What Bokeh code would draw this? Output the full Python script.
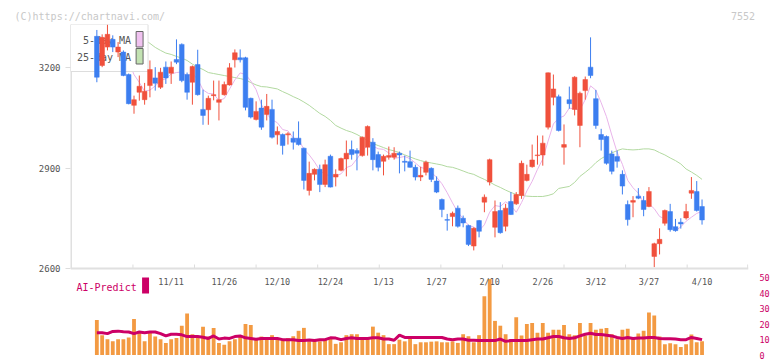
import pandas as pd
from bokeh.plotting import figure
from bokeh.models import Range1d, LinearAxis, FixedTicker, Span, ColumnDataSource
from bokeh.core.properties import value
from bokeh.embed import file_html
from bokeh.resources import INLINE

# ---------------- data ----------------
OPEN = [3293, 3206, 3261, 3284, 3246, 3246, 3179, 3087, 3126, 3104,
        3146, 3169, 3141, 3201, 3183, 3224, 3269, 3179, 3156, 3209,
        3075, 3074, 3116, 3096, 3119, 3148, 3223, 3229, 3229, 3108,
        3045, 3079, 3060, 3075, 2999, 3000, 2999, 2989, 2989, 2959,
        2833, 2881, 2896, 2851, 2935, 2873, 2893, 2927, 2955, 2952,
        2937, 2962, 2977, 2940, 2920, 2932, 2932, 2944, 2920, 2919,
        2902, 2873, 2887, 2899, 2861, 2806, 2746, 2755, 2780, 2750,
        2728, 2667, 2743, 2798, 2858, 2723, 2773, 2726, 2800, 2793,
        2818, 2863, 2904, 2937, 2939, 3022, 3111, 3113, 2962, 3104,
        3075, 3027, 3131, 3201, 3107, 3000, 2994, 2942, 2934, 2881,
        2791, 2798, 2816, 2803, 2785, 2636, 2674, 2735, 2770, 2725,
        2738, 2751, 2825, 2830, 2785]
HIGH = [3312, 3299, 3328, 3296, 3276, 3251, 3182, 3116, 3176, 3154,
        3221, 3201, 3199, 3218, 3218, 3284, 3272, 3185, 3206, 3253,
        3134, 3116, 3161, 3161, 3158, 3213, 3254, 3254, 3232, 3110,
        3099, 3104, 3121, 3104, 3024, 3003, 3007, 3009, 3039, 2961,
        2919, 2899, 2910, 2925, 2940, 2896, 2931, 2982, 2982, 2959,
        2994, 3027, 2989, 2949, 2940, 2964, 2962, 2949, 2937, 2952,
        2910, 2904, 2922, 2902, 2875, 2809, 2763, 2770, 2788, 2758,
        2731, 2723, 2745, 2821, 2928, 2803, 2798, 2793, 2828, 2828,
        2922, 2910, 2970, 2997, 2997, 3185, 3179, 3119, 3030, 3143,
        3174, 3128, 3173, 3290, 3133, 3017, 2997, 2952, 2952, 2893,
        2803, 2816, 2840, 2816, 2843, 2677, 2720, 2776, 2793, 2748,
        2750, 2793, 2873, 2861, 2806]
LOW = [3156, 3201, 3251, 3246, 3231, 3174, 3090, 3062, 3101, 3089,
       3111, 3131, 3136, 3151, 3151, 3210, 3156, 3104, 3089, 3116,
       3029, 3029, 3102, 3042, 3116, 3146, 3200, 3215, 3072, 3048,
       3042, 3014, 3042, 2988, 2970, 2940, 2970, 2955, 2967, 2836,
       2818, 2863, 2828, 2843, 2842, 2845, 2890, 2875, 2925, 2893,
       2934, 2937, 2893, 2890, 2878, 2925, 2925, 2884, 2890, 2901,
       2863, 2861, 2878, 2858, 2825, 2753, 2713, 2726, 2722, 2723,
       2667, 2654, 2693, 2768, 2848, 2693, 2704, 2711, 2760, 2790,
       2808, 2860, 2901, 2910, 2907, 3015, 3087, 3009, 2910, 3077,
       3057, 2962, 3104, 3168, 3017, 2952, 2910, 2881, 2901, 2821,
       2728, 2753, 2807, 2756, 2783, 2604, 2642, 2728, 2710, 2710,
       2719, 2746, 2808, 2770, 2731]
CLOSE = [3171, 3290, 3299, 3261, 3261, 3176, 3092, 3104, 3144, 3129,
         3194, 3153, 3186, 3169, 3201, 3216, 3161, 3126, 3203, 3119,
         3057, 3108, 3119, 3104, 3149, 3199, 3244, 3223, 3081, 3052,
         3069, 3022, 3084, 2992, 3009, 2967, 3002, 2977, 2970, 2863,
         2884, 2896, 2851, 2910, 2843, 2881, 2928, 2944, 2940, 2944,
         2992, 3024, 2925, 2902, 2935, 2937, 2944, 2939, 2917, 2902,
         2873, 2878, 2917, 2866, 2828, 2776, 2744, 2765, 2726, 2736,
         2672, 2720, 2711, 2813, 2925, 2770, 2707, 2780, 2761, 2821,
         2914, 2881, 2924, 2939, 2974, 3184, 3136, 3012, 2970, 3092,
         3171, 3123, 3164, 3176, 3027, 2985, 2914, 2890, 2920, 2846,
         2746, 2803, 2810, 2776, 2830, 2674, 2687, 2773, 2716, 2713,
         2733, 2770, 2833, 2773, 2745]
MA25 = [None] * 9 + [
    3283, 3272, 3260, 3251, 3243, 3239, 3233, 3228, 3221, 3210,
    3201, 3194, 3185, 3182, 3179, 3176, 3173, 3170, 3167, 3163,
    3155, 3148, 3143, 3142, 3139, 3136, 3128, 3121, 3113, 3106,
    3097, 3087, 3075, 3063, 3054, 3042, 3027, 3019, 3012, 3007,
    3000, 2991, 2982, 2973, 2967, 2961, 2955, 2951, 2946, 2939,
    2933, 2927, 2922, 2918, 2915, 2912, 2909, 2904, 2902, 2897,
    2891, 2885, 2881, 2873, 2866, 2858, 2849, 2842, 2834, 2827,
    2821, 2818, 2816, 2815, 2815, 2815, 2818, 2823, 2839, 2842,
    2845, 2857, 2875, 2887, 2900, 2916, 2928, 2937, 2945, 2952,
    2957, 2955, 2954, 2955, 2957, 2957, 2954, 2946, 2939, 2930,
    2922, 2912, 2897, 2888, 2878, 2866]
VOLUME = [22.6, 12.8, 10.1, 8.8, 10.1, 10.1, 11.3, 23.3, 14.2, 8.8,
          14.2, 11.9, 10.1, 7.8, 10.1, 10.9, 18.9, 26.7, 13.4, 12.1,
          18.3, 11.9, 17.5, 7.8, 6.6, 8.8, 10.1, 11.9, 20.0, 19.3,
          10.3, 11.9, 10.9, 12.8, 10.9, 10.3, 10.9, 12.1, 15.6, 17.5,
          8.8, 10.1, 8.8, 10.1, 10.3, 7.2, 8.2, 12.8, 13.4, 13.4,
          10.7, 10.7, 18.3, 14.4, 12.8, 7.0, 7.0, 9.9, 8.8, 11.9,
          7.0, 8.2, 8.2, 8.6, 8.8, 8.2, 8.2, 8.8, 7.8, 13.4,
          12.1, 8.2, 12.8, 37.9, 49.0, 22.0, 18.9, 13.4, 10.3, 24.3,
          12.6, 20.0, 20.6, 14.4, 20.6, 14.4, 16.3, 16.3, 19.3, 13.4,
          12.8, 20.6, 12.6, 20.6, 16.3, 16.9, 17.5, 13.4, 10.1, 16.3,
          16.9, 10.3, 13.8, 15.6, 27.4, 25.5, 11.9, 7.0, 7.6, 7.0,
          5.1, 7.0, 13.2, 8.2, 8.8]
AI_PREDICT = [14.4, 14.4, 13.8, 15.2, 15.4, 15.0, 14.8, 13.8, 14.8, 14.4,
              14.8, 14.8, 13.8, 12.3, 13.4, 13.4, 13.0, 11.9, 11.9, 11.9,
              11.5, 10.7, 12.3, 10.3, 10.9, 10.7, 11.9, 12.3, 11.1, 10.7,
              10.1, 10.7, 10.7, 10.7, 10.7, 9.9, 9.9, 9.9, 9.3, 9.3,
              9.7, 9.3, 9.9, 9.9, 11.1, 10.9, 9.9, 10.7, 11.1, 10.7,
              10.7, 10.7, 11.1, 11.1, 10.3, 10.3, 9.5, 12.8, 11.3, 11.3,
              11.3, 11.3, 11.3, 11.3, 11.3, 11.3, 10.3, 9.9, 10.3, 10.3,
              9.5, 9.5, 9.3, 9.3, 9.3, 9.3, 10.3, 8.8, 9.3, 9.3,
              9.3, 9.3, 9.9, 10.3, 10.3, 11.1, 11.9, 11.9, 11.1, 10.7,
              11.1, 12.3, 13.4, 14.0, 13.2, 13.2, 12.8, 12.3, 11.3, 10.7,
              11.3, 10.7, 10.9, 10.9, 11.3, 11.3, 10.7, 10.5, 10.5, 10.3,
              9.9, 9.9, 11.3, 10.7, 9.9]
DATE_LABELS = ["11/11", "11/26", "12/10", "12/24", "1/13", "1/27",
               "2/10", "2/26", "3/12", "3/27", "4/10"]
DATE_INDEX = [14, 24, 34, 44, 54, 64, 74, 84, 94, 104, 114]
PRICE_TICKS = [2600, 2900, 3200]
VOL_TICKS = [0, 10, 20, 30, 40, 50]
MA_NAMES = ["5-day MA", "25-day MA"]
COPYRIGHT = "(C)https://chartnavi.com/"
CODE = "7552"

# ---------------- layout helpers (screen px -> data) ----------------
IDX0_PX, PX_PER_IDX = 96.5, 5.34
def dx(sx):
    return (sx - IDX0_PX) / PX_PER_IDX
def dy(sy):
    return 3200 + (67 - sy) / 0.335
VOL_ZERO_PX, PX_PER_VOL = 354.5, 1.55

W, H = 772, 361
FL, FR, FT = 70, 752, 24
X0, X1 = dx(FL), dx(FR)
Y0, Y1 = dy(H), dy(FT)
BASE = 2600
TICK_POS = [6.8, 18.4, 30.0, 41.6, 53.2, 64.8, 76.4, 88.0, 99.6, 111.2, 122.6]

UP, DOWN = "#f0503c", "#3c7ef0"
MONO = value("DejaVu Sans Mono")
CRIMSON = "#cc0066"

n = len(CLOSE)
idx = list(range(n))
ma5 = pd.Series(CLOSE, dtype=float).rolling(5).mean().tolist()
ma25 = [float("nan") if v is None else v for v in MA25]

src = ColumnDataSource(dict(
    x=idx, open=OPEN, close=CLOSE, high=HIGH, low=LOW,
    top=[max(o, c) for o, c in zip(OPEN, CLOSE)],
    bottom=[min(o, c) for o, c in zip(OPEN, CLOSE)],
    color=[UP if c >= o else DOWN for o, c in zip(OPEN, CLOSE)],
    vol=VOLUME, ai=AI_PREDICT, ma5=ma5, ma25=ma25,
))

# header: copyright left, code right (monospace, padded with no-break spaces)
char_w = 6.02
pad = int(round((757 - len(CODE) * char_w - (14 + len(COPYRIGHT) * char_w)) / char_w))
header = COPYRIGHT + "\u00a0" * pad + CODE

p = figure(width=W, height=H, x_range=Range1d(X0, X1), y_range=Range1d(Y0, Y1),
           output_backend="svg", toolbar_location=None, x_axis_location=None,
           min_border_left=FL, min_border_right=W - FR, min_border_top=FT, min_border_bottom=0,
           outline_line_color=None, background_fill_color="white", border_fill_color="white",
           title=header)
p.title.text_font = "DejaVu Sans Mono"
p.title.text_font_size = "10px"
p.title.text_font_style = "normal"
p.title.text_color = "#c8c8c8"
p.title.align = "left"
p.title.offset = 14 - FL
p.title.standoff = 6
p.grid.visible = False

# price axis
ya = p.yaxis[0]
ya.ticker = FixedTicker(ticks=PRICE_TICKS)
ya.axis_line_color = None
ya.major_tick_line_color = "#dddddd"
ya.major_tick_out = 5
ya.major_tick_in = 0
ya.minor_tick_line_color = None
ya.major_label_text_font = "DejaVu Sans Mono"
ya.major_label_text_font_size = "9px"
ya.major_label_text_color = "#555555"
ya.major_label_standoff = 5

# volume axis
p.extra_y_ranges = {"vol": Range1d(-(H - VOL_ZERO_PX) / PX_PER_VOL, (VOL_ZERO_PX - FT) / PX_PER_VOL)}
va = LinearAxis(y_range_name="vol", ticker=FixedTicker(ticks=VOL_TICKS))
va.axis_line_color = None
va.major_tick_line_color = None
va.minor_tick_line_color = None
va.major_label_text_font = "DejaVu Sans Mono"
va.major_label_text_font_size = "8.5px"
va.major_label_text_color = CRIMSON
va.major_label_standoff = 5
p.add_layout(va, "right")

# frame lines of the price panel
p.add_layout(Span(location=BASE, dimension="width", line_color="#e0e0e0", line_width=2))
p.segment(x0=[X0], y0=[BASE], x1=[X0], y1=[Y1], line_color="#e0e0e0", line_width=3)
p.segment(x0=TICK_POS, y0=[BASE] * len(TICK_POS), x1=TICK_POS,
          y1=[BASE + 4 / 0.335] * len(TICK_POS), line_color="#dddddd", line_width=1)

# moving averages
p.line("x", "ma25", source=src, line_color="#b2d9a0", line_width=1)
p.line("x", "ma5", source=src, line_color="#e9b4ea", line_width=1)

# legend box (drawn above the lines, below the candles)
p.quad(left=[X0], right=[dx(148)], top=[Y1], bottom=[dy(71)],
       fill_color="white", line_color="#dddddd", line_width=1)
p.text(x=[dx(131), dx(131)], y=[dy(40), dy(57)], text=MA_NAMES, text_font=MONO,
       text_font_size="10px", text_color="#555555", text_align="right", text_baseline="middle")
p.quad(left=[dx(136)] * 2, right=[dx(143)] * 2, top=[dy(31), dy(48)], bottom=[dy(46.5), dy(63.5)],
       fill_color=["#f0c2f0", "#c2e2b2"], line_color="#666666", line_width=1)

# candles
p.segment(x0="x", y0="high", x1="x", y1="low", source=src, line_color="color", line_width=1)
p.vbar(x="x", top="top", bottom="bottom", width=0.88, source=src,
       fill_color="color", line_color="color", line_width=0.5)

# volume + AI-Predict
p.vbar(x="x", top="vol", bottom=0, width=0.72, source=src, y_range_name="vol",
       fill_color="#f39a42", line_color=None)
p.line("x", "ai", source=src, y_range_name="vol", line_color=CRIMSON, line_width=3)

# date labels
p.text(x=DATE_INDEX, y=[dy(281.5)] * len(DATE_INDEX), text=DATE_LABELS, text_font=MONO,
       text_font_size="8.5px", text_color="#555555", text_align="center", text_baseline="middle")

# AI-Predict caption
p.text(x=[dx(76)], y=[dy(286.5)], text=["AI-Predict"], text_font=MONO, text_font_size="10px",
       text_color=CRIMSON, text_align="left", text_baseline="middle")
p.quad(left=[dx(142)], right=[dx(149)], top=[dy(277)], bottom=[dy(293)],
       fill_color=CRIMSON, line_color=None)

open("out.html", "w").write(file_html(p, INLINE))
